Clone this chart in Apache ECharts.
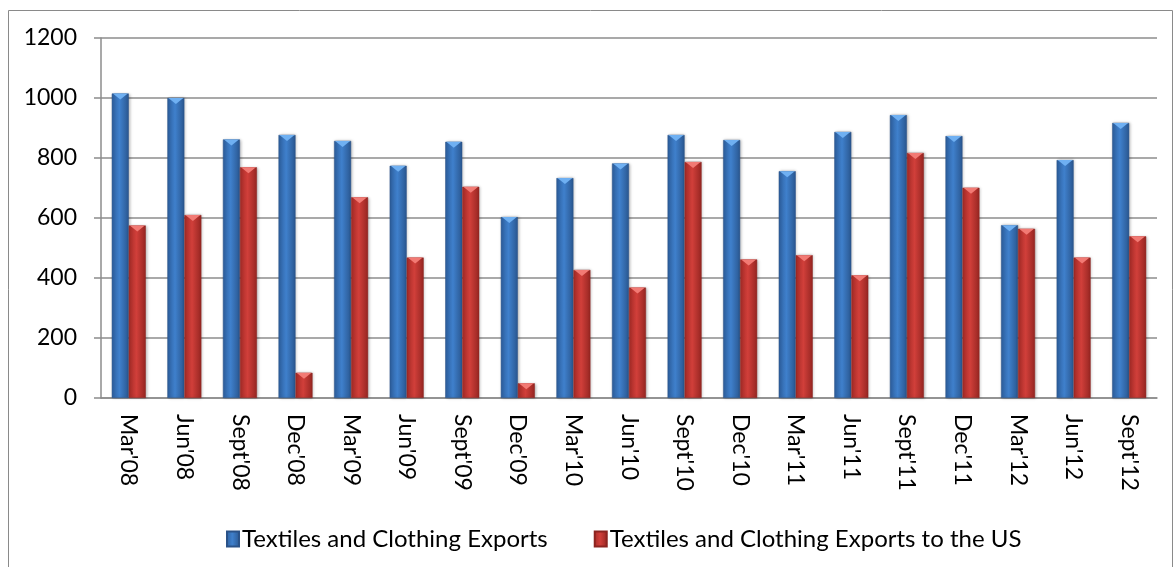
<!DOCTYPE html>
<html>
<head>
<meta charset="utf-8">
<script src="https://cdn.jsdelivr.net/npm/echarts@6/dist/echarts.min.js"></script>
<style>
  html, body { margin: 0; padding: 0; background: #fff; }
  #chart { width: 1174px; height: 567px; }
</style>
</head>
<body>
<div id="chart"></div>
<script>
// Quarterly textiles & clothing exports, total vs. to the US.
const categories = [
  "Mar'08", "Jun'08", "Sept'08", "Dec'08", "Mar'09", "Jun'09", "Sept'09",
  "Dec'09", "Mar'10", "Jun'10", "Sept'10", "Dec'10", "Mar'11", "Jun'11",
  "Sept'11", "Dec'11", "Mar'12", "Jun'12", "Sept'12"
];
const totalExports = [
  1015, 1000, 862, 877, 857, 774, 854, 603, 733, 782,
  877, 860, 756, 887, 943, 873, 576, 793, 917
];
const usExports = [
  575, 610, 769, 84, 669, 468, 704, 49, 427, 368,
  787, 462, 476, 409, 817, 701, 564, 468, 539
];
const seriesNames = ["Textiles and Clothing Exports", "Textiles and Clothing Exports to the US"];
const yTicks = { min: 0, max: 1200, interval: 200 };

const FONT = "Lato, 'Open Sans', sans-serif";
const GRID_GRAY = "#8c8c8c";
const BAR_W = 17;

// horizontal gradient gives the rounded "cylinder" look of the Excel bars
function barGradient(edge, mid, edge2) {
  return new echarts.graphic.LinearGradient(0, 0, 1, 0, [
    { offset: 0, color: edge },
    { offset: 0.45, color: mid },
    { offset: 1, color: edge2 }
  ]);
}
const blueFill = barGradient("#2d5f9e", "#3f80cc", "#2a5790");
const redFill = barGradient("#a52b27", "#d13f3a", "#962622");

// small inverted triangle highlighting the top of each bar
const CAP = "path://M0,0 L2,0 L1,1 Z";

const chart = echarts.init(document.getElementById("chart"), null, { renderer: "canvas" });
chart.setOption({
  animation: false,
  textStyle: { fontFamily: FONT },
  graphic: [
    {
      type: "rect",
      silent: true,
      shape: { x: 8.5, y: 10.5, width: 1164, height: 570 },
      style: { fill: "none", stroke: "#8a8a8a", lineWidth: 1 }
    }
  ],
  grid: { left: 101, right: 17, top: 38, bottom: 169 },
  legend: {
    data: seriesNames,
    left: 221,
    top: 522,
    itemWidth: 12,
    itemHeight: 15,
    itemGap: 46,
    icon: "rect",
    textStyle: { fontFamily: FONT, fontSize: 24, color: "#000", padding: [0, 0, 0, -2] }
  },
  xAxis: {
    type: "category",
    data: categories,
    axisLine: { lineStyle: { color: GRID_GRAY, width: 1.5 } },
    axisTick: { length: 7, lineStyle: { color: GRID_GRAY, width: 1.5 } },
    axisLabel: {
      rotate: -90,
      margin: 16,
      interval: 0,
      color: "#000",
      fontFamily: FONT,
      fontSize: 23
    }
  },
  yAxis: {
    type: "value",
    min: yTicks.min,
    max: yTicks.max,
    interval: yTicks.interval,
    axisLine: { show: true, lineStyle: { color: GRID_GRAY, width: 1.5 } },
    axisTick: { show: true, length: 7, lineStyle: { color: GRID_GRAY, width: 1.5 } },
    splitLine: { lineStyle: { color: GRID_GRAY, width: 1.5 } },
    axisLabel: {
      margin: 24,
      color: "#000",
      fontFamily: FONT,
      fontSize: 23,
      formatter: (v) => String(v)
    }
  },
  series: [
    {
      name: seriesNames[0],
      type: "bar",
      data: totalExports,
      barWidth: BAR_W,
      barGap: "0%",
      itemStyle: {
        color: blueFill,
        borderColor: "#2a5288",
        borderWidth: 0.5,
        shadowColor: "rgba(0,0,0,0.25)",
        shadowBlur: 3,
        shadowOffsetX: 1
      }
    },
    {
      name: seriesNames[1],
      type: "bar",
      data: usExports,
      barWidth: BAR_W,
      barGap: "0%",
      itemStyle: {
        color: redFill,
        borderColor: "#8c2420",
        borderWidth: 0.5,
        shadowColor: "rgba(0,0,0,0.25)",
        shadowBlur: 3,
        shadowOffsetX: 1
      }
    },
    {
      name: "cap-total",
      type: "pictorialBar",
      data: totalExports,
      barWidth: BAR_W,
      barGap: "0%",
      symbol: CAP,
      symbolSize: [BAR_W - 2, 6],
      symbolPosition: "end",
      z: 5,
      silent: true,
      itemStyle: { color: "#6fb0f2" }
    },
    {
      name: "cap-us",
      type: "pictorialBar",
      data: usExports,
      barWidth: BAR_W,
      barGap: "0%",
      symbol: CAP,
      symbolSize: [BAR_W - 2, 6],
      symbolPosition: "end",
      z: 5,
      silent: true,
      itemStyle: { color: "#f27a74" }
    }
  ]
});
</script>
</body>
</html>
